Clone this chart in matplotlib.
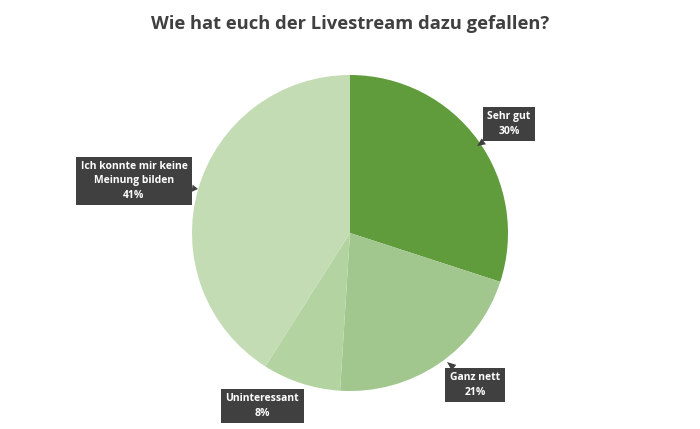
import matplotlib
matplotlib.use("Agg")
import matplotlib.pyplot as plt

# data
labels = ["Sehr gut", "Ganz nett", "Uninteressant", "Ich konnte mir keine\nMeinung bilden"]
shares = [30, 21, 8, 41]
colors = ["#609b3c", "#a2c78e", "#b3d3a1", "#c3dcb4"]

# callout positions (pixels, y from bottom) and where the pointer goes
box_xy = [(509, 305), (475, 44), (262, 23), (134, 248)]
tip_xy = [(477, 283), (447, 67), (302, 38), (198, 240)]

plt.rcParams['font.family'] = ['Open Sans', 'DejaVu Sans']

fig = plt.figure(figsize=(7, 4.29), dpi=100)
ax = fig.add_axes([0, 0, 1, 1])

ax.pie(shares, colors=colors, startangle=90, counterclock=False,
       center=(350, 196), radius=158, frame=True,
       wedgeprops=dict(linewidth=0))
ax.set_xlim(0, 700)
ax.set_ylim(0, 429)
ax.set_aspect('equal')
ax.axis('off')

dark = "#404040"
for lab, val, (bx, by), (tx, ty) in zip(labels, shares, box_xy, tip_xy):
    ax.annotate(f"{lab}\n{val}%", xy=(tx, ty), xytext=(bx, by),
                ha='center', va='center', fontsize=7.5, fontweight='bold',
                color='white', linespacing=1.4,
                bbox=dict(boxstyle='square,pad=0.45', fc=dark, ec='none'),
                arrowprops=dict(arrowstyle='wedge,tail_width=0.7,shrink_factor=0.5',
                                fc=dark, ec='none', shrinkA=0, shrinkB=0))

fig.text(0.5, 1 - 24 / 429, "Wie hat euch der Livestream dazu gefallen?",
         ha='center', va='center', fontsize=13.2, fontweight='bold', color='#404040')

fig.savefig("out.png", dpi=100)
